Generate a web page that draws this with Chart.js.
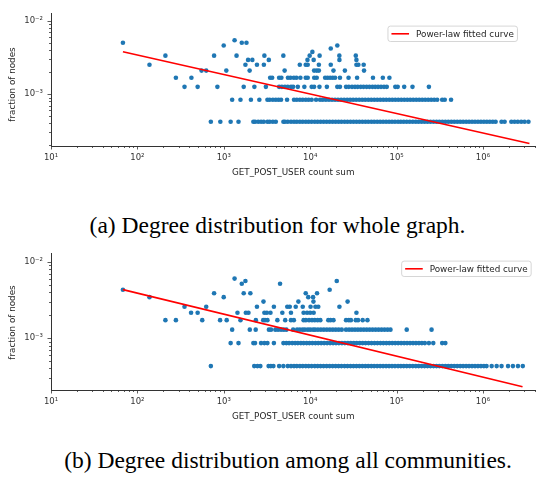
<!DOCTYPE html>
<html><head><meta charset="utf-8">
<script src="https://cdn.jsdelivr.net/npm/chart.js@4"></script>
<style>
html,body{margin:0;padding:0;background:#fff;}
body{width:542px;height:484px;position:relative;overflow:hidden;}
canvas{position:absolute;left:0;}
.cap{position:absolute;width:600px;text-align:center;font-family:"Liberation Serif","Times New Roman",serif;font-size:23.5px;line-height:23.5px;color:#000;white-space:nowrap;}
</style></head>
<body>
<canvas id="c1" width="542" height="184" style="top:0"></canvas>
<div class="cap" style="left:-22.5px;top:214px">(a) Degree distribution for whole graph.</div>
<canvas id="c2" width="542" height="184" style="top:240px"></canvas>
<div class="cap" style="left:-12px;top:449px">(b) Degree distribution among all communities.</div>
<script>
// ---------- (a) whole graph: fraction-of-nodes levels and the counts found at each level ----------
const fracWhole = [4.2e-4, 8.4e-4, 1.26e-3, 1.68e-3, 2.1e-3, 2.52e-3, 2.94e-3, 3.36e-3, 3.78e-3, 4.2e-3, 4.62e-3, 5.04e-3, 5.46e-3];
const wholeK1 = [708, 912, 1200, 1480, 2200, 2300, 2500, 2700, 2900, 3200, 3400, 3700, 4000, 4900, 5100, 5500, 6000, 6500, 7000, 7600, 8200, 8900, 9600, 10400, 11300, 12200, 13200, 14300, 15500, 16800, 18200, 19700, 21300, 23000, 25000, 27000, 29300, 31700, 34300, 37100, 40200, 43500, 47000, 51000, 55000, 59600, 64500, 69800, 75600, 81800, 88500, 95800, 104000, 112000, 121000, 131000, 142000, 154000, 167000, 180000, 195000, 211000, 228000, 247000, 268000, 290000, 313000, 339000, 367000, 397000, 430000, 465000, 503000, 545000, 589000, 638000, 690000, 747000, 808000, 875000, 947000, 1025000, 1109000, 1200000, 1300000, 1400000, 1640000, 1780000, 2130000, 2320000, 2530000, 2770000, 3030000, 3360000];
const wholeK2 = [1250, 1560, 2060, 2580, 3200, 3400, 3700, 4000, 4300, 4600, 5400, 6500, 7000, 7600, 8200, 8900, 9600, 10400, 11700, 13000, 14000, 15200, 16500, 17900, 19400, 21000, 22800, 24700, 26800, 29000, 31400, 34000, 36900, 40000, 43300, 47000, 50900, 55100, 59700, 64700, 70100, 75900, 82300, 89100, 96500, 104500, 113200, 122600, 132800, 143800, 155700, 168700, 182700, 197900, 214300, 232100, 251400, 272300, 295000, 337000, 361000, 427000];
const wholeK3 = [351, 498, 843, 1700, 2260, 3070, 4370, 4700, 5100, 5500, 6000, 6350, 7190, 8560, 10400, 11100, 12800, 15600, 20600, 22100, 26000, 28000, 30500, 33000, 35500, 38500, 41500, 45000, 48500, 52500, 56500, 61000, 66000, 71500, 77000, 96600, 103000, 122500, 152800, 236600];
const wholeK4 = [279, 422, 3440, 3630, 4370, 4640, 5530, 5920, 6470, 6930, 7700, 8880, 9360, 11140, 11900, 14900, 15900, 17000, 18200, 19400, 22100, 27800, 34900, 53300, 69300, 82600];
const wholeK5 = [553, 626, 1070, 1990, 5060, 11100, 11900, 12600, 18600, 25200, 42000];
const wholeK6 = [138, 1780, 2420, 2910, 7580, 8880, 9360, 12600, 17300, 34300, 36100, 41600];
const wholeK7 = [1910, 2140, 3320, 9300, 10970, 21800, 34300];
const wholeK8 = [211, 772, 1405, 2950, 4890, 9860, 12850, 21760, 33700];
const wholeK9 = [10600];
const wholeK10 = [17300];
const wholeK11 = [998, 20600];
const wholeK12 = [68, 1615, 1830];
const wholeK13 = [1333];
const fitXWhole = [68, 3450000];
const fitYWhole = [3.79e-3, 2.12e-4];

// ---------- (b) among all communities ----------
const fracComm = [4.3e-4, 8.6e-4, 1.29e-3, 1.72e-3, 2.15e-3, 2.58e-3, 3.01e-3, 3.44e-3, 3.87e-3, 4.3e-3, 4.73e-3, 5.16e-3, 5.59e-3, 6.02e-3];
const commK1 = [708, 2250, 2450, 2650, 3300, 3500, 3750, 4370, 4890, 5500, 6000, 6500, 7000, 7600, 8200, 8900, 9600, 10400, 11300, 12200, 13200, 14300, 15500, 16800, 18200, 19700, 21300, 23000, 25000, 27000, 29300, 31700, 34300, 37100, 40200, 43500, 47000, 51000, 55000, 59600, 64500, 69800, 75600, 81800, 88500, 95800, 104000, 112000, 121000, 131000, 142000, 154000, 167000, 180000, 195000, 211000, 228000, 247000, 268000, 290000, 313000, 339000, 367000, 397000, 430000, 465000, 503000, 545000, 589000, 638000, 690000, 747000, 808000, 875000, 947000, 1025000, 1100000, 1260000, 1440000, 1640000, 1950000, 2220000, 2540000, 2890000];
const commK2 = [1200, 1480, 2200, 2300, 2700, 2950, 3200, 3800, 4900, 5300, 5700, 6200, 6700, 7200, 7800, 8400, 9100, 9800, 10600, 11500, 12400, 13400, 14500, 15700, 17000, 18400, 19900, 21500, 23300, 25200, 27300, 29500, 31900, 34500, 37400, 40500, 43800, 47400, 51300, 55500, 60000, 65000, 70300, 76100, 82300, 89100, 96400, 104300, 112900, 122200, 132200, 143100, 154900, 167600, 181400, 196300, 212400, 236600, 266000, 337000, 367000];
const commK3 = [1250, 2000, 2340, 3330, 3520, 3950, 4250, 4600, 4950, 5300, 6350, 7060, 7600, 8200, 8700, 9400, 10000, 10800, 11400, 12300, 13300, 14400, 15600, 16900, 18300, 19800, 21400, 23200, 26000, 28200, 30500, 33000, 35700, 38600, 41800, 45200, 48900, 52900, 57300, 62000, 67100, 72600, 78600, 85000, 131000, 254000];
const commK4 = [211, 279, 563, 906, 1080, 1560, 2350, 2860, 3000, 3200, 4170, 5140, 5990, 6470, 8390, 8900, 9700, 10500, 11300, 12200, 13100, 16200, 17200, 18600, 26000, 28000, 29600, 33700, 35800, 40500, 46000];
const commK5 = [418, 498, 1440, 1800, 1930, 2950, 3150, 3470, 4760, 5990, 8390, 9200, 10000, 10970, 34300];
const commK6 = [351, 626, 2420, 3800, 5430, 5800, 6800, 8200, 10100, 11500, 12400, 21800];
const commK7 = [2880, 7300, 10900, 27100];
const commK8 = [138, 998, 9500, 10800];
const commK9 = [772, 1700, 2030, 8880, 12000];
const commK10 = [68, 16800];
const commK11 = [];
const commK12 = [1615, 4480];
const commK13 = [1780, 20300];
const commK14 = [1333];
const fitXComm = [68, 2870000];
const fitYComm = [4.32e-3, 2.3e-4];

// ---------- axis tick labels ----------
const xMajor = [1e1, 1e2, 1e3, 1e4, 1e5, 1e6];
const xMajorLabels = ['10\u00B9', '10\u00B2', '10\u00B3', '10\u2074', '10\u2075', '10\u2076'];
const yMajor = [1e-3, 1e-2];
const yMajorLabels = ['10\u207B\u00B3', '10\u207B\u00B2'];

Chart.defaults.font.family = "'DejaVu Sans', sans-serif";

function buildPoints(rows, fracs) {
  const out = [];
  rows.forEach((xs, i) => xs.forEach(x => out.push({x: x, y: fracs[i]})));
  return out;
}
function logTicks(majors, min, max) {
  const t = [];
  majors.forEach(m => {
    for (let k = 1; k <= 9; k++) {
      const v = m * k;
      if (v >= min * 0.9999 && v <= max * 1.0001) t.push({value: v, major: k === 1});
    }
  });
  const m0 = majors[0] / 10;
  for (let k = 2; k <= 9; k++) { const v = m0 * k; if (v >= min && v <= max) t.unshift({value: v, major: false}); }
  t.sort((a, b) => a.value - b.value);
  return t;
}
function label(majors, labels, v) {
  for (let i = 0; i < majors.length; i++) if (Math.abs(v / majors[i] - 1) < 1e-6) return labels[i];
  return '';
}

const decor = {
  id: 'decor',
  afterDraw(chart, args, o) {
    const ctx = chart.ctx, ca = chart.chartArea;
    const xs = chart.scales.x, ys = chart.scales.y;
    ctx.save();
    ctx.strokeStyle = '#333';
    ctx.lineWidth = 0.8;
    xs.ticks.forEach(t => {
      const p = Math.round(xs.getPixelForValue(t.value)) + 0.5;
      const len = t.major ? 3.5 : 2;
      ctx.beginPath(); ctx.moveTo(p, ca.bottom); ctx.lineTo(p, ca.bottom + len); ctx.stroke();
    });
    ys.ticks.forEach(t => {
      const p = Math.round(ys.getPixelForValue(t.value)) + 0.5;
      const len = t.major ? 3.5 : 2;
      ctx.beginPath(); ctx.moveTo(ca.left, p); ctx.lineTo(ca.left - len, p); ctx.stroke();
    });
    ctx.save();
    ctx.translate(o.yTitleX, o.yTitleY);
    ctx.rotate(-Math.PI / 2);
    ctx.font = "8.8px 'DejaVu Sans'";
    ctx.fillStyle = '#262626';
    ctx.textAlign = 'center';
    ctx.textBaseline = 'middle';
    ctx.fillText('fraction of nodes', 0, 0);
    ctx.restore();
    const text = 'Power-law fitted curve';
    ctx.font = "8.8px 'DejaVu Sans'";
    const tw = ctx.measureText(text).width;
    const pad = 3.5, hl = 17.6, tp = 7;
    const w = pad + hl + tp + tw + pad, h = 15.4;
    const x0 = ca.right - o.legendRight - w, y0 = ca.top + o.legendTop;
    ctx.beginPath();
    if (ctx.roundRect) ctx.roundRect(x0, y0, w, h, 2.5); else ctx.rect(x0, y0, w, h);
    ctx.fillStyle = 'rgba(255,255,255,0.8)';
    ctx.fill();
    ctx.strokeStyle = 'rgba(204,204,204,0.8)';
    ctx.lineWidth = 1;
    ctx.stroke();
    ctx.strokeStyle = '#ff0000';
    ctx.lineWidth = 1.6;
    ctx.beginPath(); ctx.moveTo(x0 + pad, y0 + h / 2); ctx.lineTo(x0 + pad + hl, y0 + h / 2); ctx.stroke();
    ctx.fillStyle = '#262626';
    ctx.textAlign = 'left';
    ctx.textBaseline = 'middle';
    ctx.fillText(text, x0 + pad + hl + tp, y0 + h / 2 + 0.5);
    ctx.restore();
  }
};

function makeChart(id, points, fitX, fitY, cfg) {
  const xMin = 10, xMax = 4.05e6;
  new Chart(document.getElementById(id), {
    data: {
      datasets: [
        {type: 'line', data: fitX.map((x, i) => ({x: x, y: fitY[i]})), borderColor: '#ff0000', borderWidth: 1.6,
         pointRadius: 0, fill: false, tension: 0, order: 0},
        {type: 'scatter', data: points, backgroundColor: '#1f77b4', borderWidth: 0, pointRadius: 2.3, order: 1}
      ]
    },
    options: {
      responsive: false, animation: false, events: [],
      layout: {padding: {top: cfg.padTop, right: 1, left: 0, bottom: 0}},
      plugins: {legend: {display: false}, tooltip: {enabled: false},
        decor: {yTitleX: 13, yTitleY: cfg.yTitleY, legendRight: cfg.legendRight, legendTop: cfg.legendTop}},
      scales: {
        x: {type: 'logarithmic', min: xMin, max: xMax, bounds: 'data',
          afterFit: s => { s.height = cfg.xAxisH; },
          afterBuildTicks: s => { s.ticks = logTicks(xMajor, xMin, xMax); },
          grid: {display: false, drawTicks: false},
          border: {display: true, color: '#333', width: 1},
          ticks: {autoSkip: false, maxRotation: 0, padding: 7, color: '#333', font: {size: 8.5},
            callback: v => label(xMajor, xMajorLabels, v)},
          title: {display: true, text: 'GET_POST_USER count sum', color: '#262626', font: {size: 8.8},
            padding: {top: 0, bottom: cfg.xTitlePad}}
        },
        y: {type: 'logarithmic', min: cfg.yMin, max: cfg.yMax, bounds: 'data',
          afterFit: s => { s.width = 51; },
          afterBuildTicks: s => { s.ticks = logTicks(yMajor, cfg.yMin, cfg.yMax); },
          grid: {display: false, drawTicks: false},
          border: {display: true, color: '#333', width: 1},
          ticks: {autoSkip: false, padding: 8, color: '#333', font: {size: 8.5},
            callback: v => label(yMajor, yMajorLabels, v)}
        }
      }
    },
    plugins: [decor]
  });
}

makeChart('c1',
  buildPoints([wholeK1, wholeK2, wholeK3, wholeK4, wholeK5, wholeK6, wholeK7, wholeK8, wholeK9, wholeK10, wholeK11, wholeK12, wholeK13], fracWhole),
  fitXWhole, fitYWhole,
  {padTop: 5, xAxisH: 38, xTitlePad: 6.2, yMin: 1.96e-4, yMax: 1.28e-2, yTitleY: 84.5, legendRight: 18, legendTop: 13});

makeChart('c2',
  buildPoints([commK1, commK2, commK3, commK4, commK5, commK6, commK7, commK8, commK9, commK10, commK11, commK12, commK13, commK14], fracComm),
  fitXComm, fitYComm,
  {padTop: 9.3, xAxisH: 34, xTitlePad: 2.2, yMin: 2.09e-4, yMax: 1.3e-2, yTitleY: 82.5, legendRight: 4.3, legendTop: 8});
</script>
</body></html>
